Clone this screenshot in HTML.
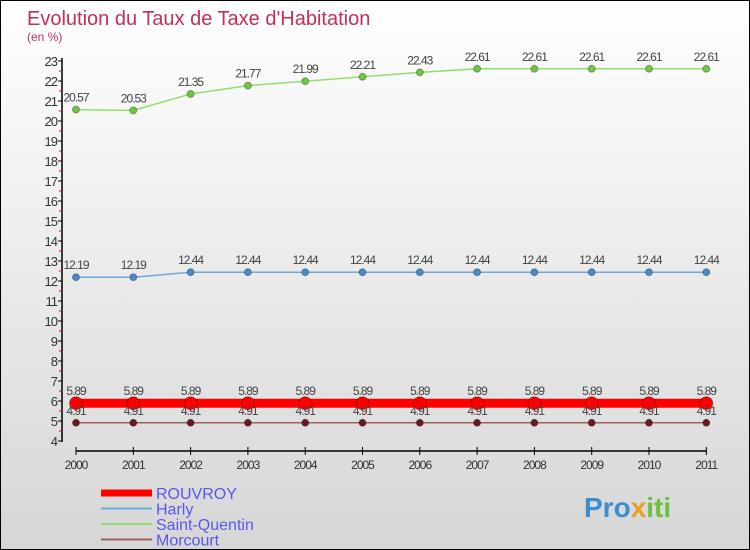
<!DOCTYPE html>
<html><head><meta charset="utf-8"><style>
body{margin:0}
#c{width:748px;height:548px;border:1px solid #000;background:linear-gradient(#fff,#d6d6d6);position:relative;overflow:hidden;font-family:"Liberation Sans",sans-serif}
</style></head><body>
<div id="c">
<svg id="s" width="748" height="548">
<text x="26" y="24" font-size="20" fill="#c0305a">Evolution du Taux de Taxe d'Habitation</text>
<text x="26" y="40" font-size="12" fill="#c0305a">(en %)</text>
<g id="g"></g>
<text x="583" y="516" font-size="28" font-weight="bold" fill="#3a8ed0">Pro<tspan fill="#e8a020">x</tspan><tspan fill="#6cc040">iti</tspan></text>
</svg>
</div>
<script>
const years=[2000,2001,2002,2003,2004,2005,2006,2007,2008,2009,2010,2011];
const rouvroy=[5.89,5.89,5.89,5.89,5.89,5.89,5.89,5.89,5.89,5.89,5.89,5.89];
const harly=[12.19,12.19,12.44,12.44,12.44,12.44,12.44,12.44,12.44,12.44,12.44,12.44];
const stq=[20.57,20.53,21.35,21.77,21.99,22.21,22.43,22.61,22.61,22.61,22.61,22.61];
const morcourt=[4.91,4.91,4.91,4.91,4.91,4.91,4.91,4.91,4.91,4.91,4.91,4.91];
const yTicks=[4,5,6,7,8,9,10,11,12,13,14,15,16,17,18,19,20,21,22,23];
const NS="http://www.w3.org/2000/svg";
const g=document.getElementById('g');
const X=i=>75+i*57.3;
const Y=v=>440-(v-4)*20.0;
function el(t,a,p){const e=document.createElementNS(NS,t);for(const k in a)e.setAttribute(k,a[k]);(p||g).appendChild(e);return e;}
let ax=el('line',{x1:61,y1:57,x2:61,y2:441,stroke:'#000','stroke-width':1.5});

yTicks.forEach(v=>{
 let t=el('line',{x1:57,x2:61,y1:Y(v),y2:Y(v),stroke:'#000'});
 
 if(v<23){let m=el('line',{x1:58,x2:61,y1:Y(v+0.5),y2:Y(v+0.5),stroke:'#f00'});
 }
 let l=el('text',{x:56,y:Y(v)+5,'text-anchor':'end','font-size':13,fill:'#333','letter-spacing':'-1'});l.textContent=v;
 
});
let xa=el('line',{x1:75,x2:706,y1:450,y2:450,stroke:'#000','stroke-width':1.5});

years.forEach((y,i)=>{
 let t=el('line',{x1:X(i),x2:X(i),y1:446,y2:454,stroke:'#000'});
 
 let l=el('text',{x:X(i),y:468,'text-anchor':'middle','font-size':12,fill:'#333','letter-spacing':'-1'});l.textContent=y;
 
});
function series(d,color,w,r,name,dot){
 let p=el('polyline',{points:d.map((v,i)=>X(i)+','+Y(v)).join(' '),fill:'none',stroke:color,'stroke-width':w});
 
 d.forEach((v,i)=>{
  let c=el('circle',{cx:X(i),cy:Y(v),r:r,fill:dot,stroke:'rgba(0,0,0,0.3)'});
  
  let l=el('text',{x:X(i),y:Y(v)-8,'text-anchor':'middle','font-size':12,fill:'#444','letter-spacing':'-1'});l.textContent=v;
  
 });
}
series(stq,'#90e070',1.5,3.5,'saint-quentin','#70c840');
series(harly,'#70a8d8',1.5,3.5,'harly','#4a8ac8');
series(rouvroy,'#f00',9,6.5,'rouvroy','#f00');
series(morcourt,'#a06060',1.5,3.5,'morcourt','#6a1a1a');
const leg=[['ROUVROY','#f00',7],['Harly','#70a8d8',2],['Saint-Quentin','#90e070',2],['Morcourt','#a06060',2]];
leg.forEach((e,i)=>{
 const y=492+i*15.5;
 let l=el('line',{x1:100,x2:151,y1:y,y2:y,stroke:e[1],'stroke-width':e[2]});
 
 let t=el('text',{x:155,y:y+6,'font-size':16,fill:'#5858f0'});t.textContent=e[0];
 
});
</script>
</body></html>
